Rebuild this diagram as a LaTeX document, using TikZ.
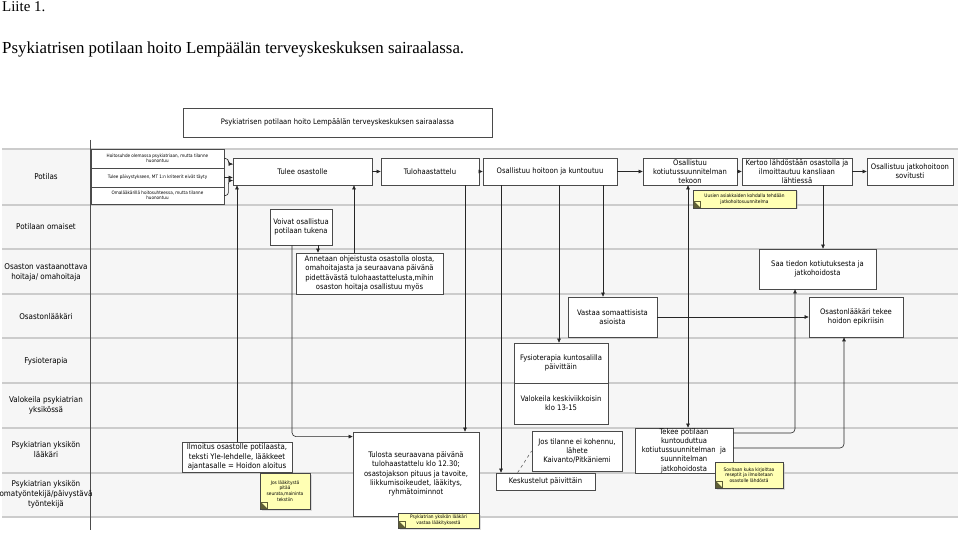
\documentclass[tikz,border=0pt]{standalone}
\usepackage{fontspec}
\setmainfont{Liberation Serif}
\newfontfamily\flowfont{DejaVu Sans Condensed}
\usetikzlibrary{arrows.meta,shadows}
\definecolor{boxline}{HTML}{4A4A4A}
\definecolor{lanefill}{HTML}{F6F6F6}
\definecolor{laneline}{HTML}{CCCCCC}
\definecolor{notefill}{HTML}{FFFFB4}
\definecolor{notemark}{HTML}{5E5E36}
\tikzset{
  box/.style={draw=boxline, fill=white, line width=0.8bp, inner xsep=1bp, inner ysep=0bp, align=center, font=\flowfont\fontsize{7.6}{9.3}\selectfont},
  tinybox/.style={box, font=\flowfont\fontsize{4.6}{5.4}\selectfont},
  sz/.style 2 args={minimum width=#1bp, minimum height=#2bp},
  note/.style={draw=gray!55!black, fill=notefill, line width=0.5bp, inner sep=0.5bp, align=center, font=\flowfont\fontsize{4.8}{5.8}\selectfont, drop shadow={shadow xshift=1.5bp, shadow yshift=-1.5bp, fill=gray!50}},
  lanelabel/.style={align=center, font=\flowfont\fontsize{8}{10}\selectfont},
  arr/.style={draw=black!85, line width=0.6bp, -{Triangle[length=4bp,width=3.6bp]}},
  arrboth/.style={arr, {Triangle[length=4bp,width=3.6bp]}-{Triangle[length=4bp,width=3.6bp]}},
}
\newcommand{\notecorner}[1]{%
  \filldraw[fill=notemark, draw=notemark, line width=0.3bp] ([shift={(1bp,1bp)}]#1.south west) -- ++(6bp,0bp) -- ++(-6bp,6bp) -- cycle;
  \draw[notemark, line width=0.3bp] ([shift={(1bp,1bp)}]#1.south west) rectangle ++(6bp,6bp);}
\begin{document}
\begin{tikzpicture}[x=1bp,y=-1bp]
\useasboundingbox (0,0) rectangle (960,535);
\node[anchor=north west, inner sep=0pt, font=\fontsize{15}{17}\selectfont] (liite) at (2,1) {Liite 1.};
\node[anchor=north west, inner sep=0pt, font=\fontsize{16.9}{19}\selectfont] (otsikko) at (2,42) {Psykiatrisen potilaan hoito Lempäälän terveyskeskuksen sairaalassa.};

\fill[lanefill] (2,149) rectangle (958,517);
\foreach \y in {149,205,249,294,338,383,428,473,517}
  \draw[laneline, line width=1.2bp] (2,\y) -- (958,\y);
\draw[gray!60!black, line width=0.8bp] (90,140) -- (90,530);

\node[box, sz={309}{29}] (title) at (337.5,122.5) {Psykiatrisen potilaan hoito Lempäälän terveyskeskuksen sairaalassa};

\node[lanelabel] (l1) at (46,177) {Potilas};
\node[lanelabel] (l2) at (46,227) {Potilaan omaiset};
\node[lanelabel] (l3) at (46,272) {Osaston vastaanottava\\hoitaja/ omahoitaja};
\node[lanelabel] (l4) at (46,317) {Osastonlääkäri};
\node[lanelabel] (l5) at (46,361) {Fysioterapia};
\node[lanelabel] (l6) at (46,405) {Valokeila psykiatrian\\yksikössä};
\node[lanelabel] (l7) at (46,450) {Psykiatrian yksikön\\lääkäri};
\node[lanelabel] (l8) at (46,494) {Psykiatrian yksikön\\omatyöntekijä/päivystävä\\työntekijä};

\node[tinybox, sz={133}{19}] (a1) at (157.5,158.5) {Hoitosuhde olemassa psykiatriaan, mutta tilanne\\huonontuu};
\node[tinybox, sz={133}{19}] (a2) at (157.5,177.5) {Tulee päivystykseen, MT 1:n kriteerit eivät täyty};
\node[tinybox, sz={133}{17}] (a3) at (157.5,195.5) {Omalääkärillä hoitosuhteessa, mutta tilanne\\huonontuu};

\node[box, sz={139}{27}] (tulee) at (302.5,171.5) {Tulee osastolle};
\node[box, sz={98}{27}] (tulo) at (430,171.5) {Tulohaastattelu};
\node[box, sz={134}{27}] (hoito) at (550,171.5) {Osallistuu hoitoon ja kuntoutuu};
\node[box, sz={94}{27}] (kotiutus) at (690,171.5) {Osallistuu\\kotiutussuunnitelman\\tekoon};
\node[box, sz={110}{27}] (kertoo) at (797,171.5) {Kertoo lähdöstään osastolla ja\\ilmoittautuu kansliaan\\lähtiessä};
\node[box, sz={86}{27}] (jatko) at (910,171.5) {Osallistuu jatkohoitoon\\sovitusti};

\node[box, sz={62}{36}] (voivat) at (301,227) {Voivat osallistua\\potilaan tukena};
\node[box, sz={147}{41}] (annetaan) at (369.5,273.5) {Annetaan ohjeistusta osastolla olosta,\\omahoitajasta ja seuraavana päivänä\\pidettävästä tulohaastattelusta,mihin\\osaston hoitaja osallistuu myös};
\node[box, sz={117}{40}] (saa) at (817.5,269) {Saa tiedon kotiutuksesta ja\\jatkohoidosta};
\node[box, sz={89}{40}] (vastaa) at (612.5,317) {Vastaa somaattisista\\asioista};
\node[box, sz={94}{40}] (epikriisi) at (856,317) {Osastonlääkäri tekee\\hoidon epikriisin};
\node[box, sz={94}{40}] (fysio) at (561,363) {Fysioterapia kuntosalilla\\päivittäin};
\node[box, sz={94}{41}] (valokeila) at (561,403.5) {Valokeila keskiviikkoisin\\klo 13-15};

\node[box, sz={110}{30}, font=\flowfont\fontsize{7.8}{9.6}\selectfont] (ilmoitus) at (237,457) {Ilmoitus osastolle potilaasta,\\teksti Yle-lehdelle, lääkkeet\\ajantasalle = Hoidon aloitus};
\node[box, sz={126}{84}] (tulosta) at (416,474) {Tulosta seuraavana päivänä\\tulohaastattelu klo 12.30;\\osastojakson pituus ja tavoite,\\liikkumisoikeudet, lääkitys,\\ryhmätoiminnot};
\node[box, sz={90}{40}] (jos) at (577,451) {Jos tilanne ei kohennu,\\lähete\\Kaivanto/Pitkäniemi};
\node[box, sz={99}{17}] (keskustelut) at (545.5,481.5) {Keskustelut päivittäin};
\node[box, sz={98}{45}] (tekee) at (684,450.5) {Tekee potilaan\\kuntouduttua\\kotiutussuunnitelman\ \ ja\\suunnitelman\\jatkohoidosta};

\draw[arr, rounded corners=3bp] (a1.east) -- ++(4,0) |- ([yshift=7.5bp]tulee.west);
\draw[arr] (a2.east) -- (a2.east -| tulee.west);
\draw[arr, rounded corners=3bp] (a3.east) -- ++(4,0) |- ([yshift=-9bp]tulee.west);
\draw[arr] (tulee) -- (tulo);
\draw[arr] (tulo) -- (hoito);
\draw[arr] (hoito) -- (kotiutus);
\draw[arr] (kotiutus) -- (kertoo);
\draw[arr] (kertoo) -- (jatko);
\draw[arr] (ilmoitus.north) -- (ilmoitus.north |- tulee.south);
\draw[arr, rounded corners=4bp] ([xshift=-9bp]voivat.south) |- ([yshift=-5bp]tulosta.north west);
\draw[arr] ([xshift=17bp]voivat.south) -- ([xshift=17bp]voivat.south |- annetaan.north);
\draw[arr] ([xshift=-15.5bp]annetaan.north) -- ([xshift=-15.5bp]annetaan.north |- tulee.south);
\draw[arr] ([xshift=35bp]tulo.south) -- ([xshift=35bp]tulo.south |- tulosta.north);
\draw[arr] ([xshift=-49bp]hoito.south) -- ([xshift=-49bp]hoito.south |- keskustelut.north);
\draw[arr] ([xshift=9bp]hoito.south) -- ([xshift=9bp]hoito.south |- fysio.north);
\draw[arr] ([xshift=53bp]hoito.south) -- ([xshift=53bp]hoito.south |- vastaa.north);
\draw[arrboth] ([xshift=-2bp]kotiutus.south) -- ([xshift=-2bp]kotiutus.south |- tekee.north);
\draw[arr] ([xshift=26bp]kertoo.south) -- ([xshift=26bp]kertoo.south |- saa.north);
\draw[arr] (vastaa) -- (epikriisi);
\draw[arr, rounded corners=4bp] ([yshift=17.5bp]tekee.east) -| ([xshift=-22.5bp]saa.south);
\draw[arr, rounded corners=4bp] ([yshift=2.5bp]tekee.east) -| ([xshift=-12bp]epikriisi.south);
\draw[boxline, dashed, line width=0.5bp] ([xshift=22bp]keskustelut.north west) -- (jos.west);

\node[note, sz={103}{18}] (note1) at (744.5,199) {Uusien asiakkaiden kohdalla tehdään\\jatkohoitosuunnitelma};
\node[note, sz={50}{36}] (note2) at (285,491) {Jos lääkitystä\\pitää\\seurata,maininta\\tekstiin};
\node[note, sz={81}{15}] (note3) at (438.5,520.5) {Psykiatrian yksikön lääkäri\\vastaa lääkityksestä};
\node[note, sz={68}{26}] (note4) at (749,475) {Sovitaan kuka kirjoittaa\\reseptit ja ilmoitetaan\\osastolle lähdöstä};
\foreach \n in {note1,note2,note3,note4}
  {\notecorner{\n}}
\end{tikzpicture}
\end{document}
